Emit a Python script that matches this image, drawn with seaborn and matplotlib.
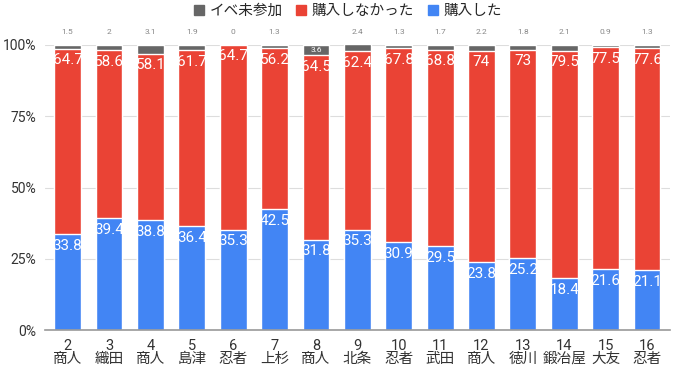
import numpy as np
import pandas as pd
import matplotlib
matplotlib.use("Agg")
import matplotlib.pyplot as plt
import seaborn as sns
from matplotlib.lines import Line2D

numbers = ["2", "3", "4", "5", "6", "7", "8", "9", "10", "11", "12", "13", "14", "15", "16"]
names = ["商人", "織田", "商人", "島津", "忍者", "上杉", "商人", "北条", "忍者", "武田", "商人", "徳川", "鍛冶屋", "大友", "忍者"]
bought = [33.8, 39.4, 38.8, 36.4, 35.3, 42.5, 31.8, 35.3, 30.9, 29.5, 23.8, 25.2, 18.4, 21.6, 21.1]
not_bought = [64.7, 58.6, 58.1, 61.7, 64.7, 56.2, 64.5, 62.4, 67.8, 68.8, 74, 73, 79.5, 77.5, 77.6]
absent = [1.5, 2, 3.1, 1.9, 0, 1.3, 3.6, 2.4, 1.3, 1.7, 2.2, 1.8, 2.1, 0.9, 1.3]

sns.set_theme(style="white")
plt.rcParams['font.family'] = ['Roboto', 'Noto Sans CJK JP', 'DejaVu Sans']

labels = [f"{n}\n{m}" for n, m in zip(numbers, names)]
df = pd.DataFrame({"label": labels, "bought": bought,
                   "not_bought": not_bought, "absent": absent})
df["top_red"] = df["bought"] + df["not_bought"]
df["total"] = df["top_red"] + df["absent"]

c_gray, c_red, c_blue = "#666666", "#EA4335", "#4285F4"

fig, ax = plt.subplots(figsize=(6.8, 3.67), dpi=100)
fig.subplots_adjust(left=0.066, right=0.985, top=0.878, bottom=0.1)

# layered bars give the stacked look
sns.barplot(data=df, x="label", y="total", color=c_gray, width=0.65, saturation=1, ax=ax)
sns.barplot(data=df, x="label", y="top_red", color=c_red, width=0.65, saturation=1, ax=ax)
sns.barplot(data=df, x="label", y="bought", color=c_blue, width=0.65, saturation=1, ax=ax)

for i, row in df.iterrows():
    ax.text(i, row["bought"] - 5.6, f"{row['bought']:g}", ha="center", va="baseline",
            color="white", fontsize=11)
    ax.text(i, row["top_red"] - 5.4, f"{row['not_bought']:g}", ha="center", va="baseline",
            color="white", fontsize=11)
    if row["absent"] >= 3.5:
        ax.text(i, row["top_red"] + row["absent"] / 2, f"{row['absent']:g}", ha="center",
                va="center", color="white", fontsize=6)
    else:
        ax.text(i, 104.6, f"{row['absent']:g}", ha="center", va="center",
                color="#888888", fontsize=6)

ax.set_ylim(0, 100)
ax.set_xlim(-0.55, len(df) - 0.45)
ax.set_yticks([0, 25, 50, 75, 100])
ax.set_yticklabels(["0%", "25%", "50%", "75%", "100%"], fontsize=10, color="#333333")
ax.tick_params(axis="x", labelsize=10.5, labelcolor="#333333", length=0, pad=6)
ax.tick_params(axis="y", length=0, pad=6)
for t in ax.get_xticklabels():
    t.set_linespacing(0.9)
ax.set_xlabel("")
ax.set_ylabel("")
ax.grid(axis="y", color="#dddddd", linewidth=0.8)
ax.set_axisbelow(True)
for s in ["top", "right", "left"]:
    ax.spines[s].set_visible(False)
ax.spines["bottom"].set_color("#999999")
ax.spines["bottom"].set_linewidth(1.2)
ax.spines["bottom"].set_zorder(5)

handles = [Line2D([], [], marker="s", color=c, linestyle="", markersize=7) for c in (c_gray, c_red, c_blue)]
fig.legend(handles, ["イベ未参加", "購入しなかった", "購入した"], loc="upper center",
           bbox_to_anchor=(0.51, 1.025), ncol=3, frameon=False, fontsize=10.5,
           handletextpad=0.2, columnspacing=0.8, handlelength=1)

fig.savefig("out.png", dpi=100)
